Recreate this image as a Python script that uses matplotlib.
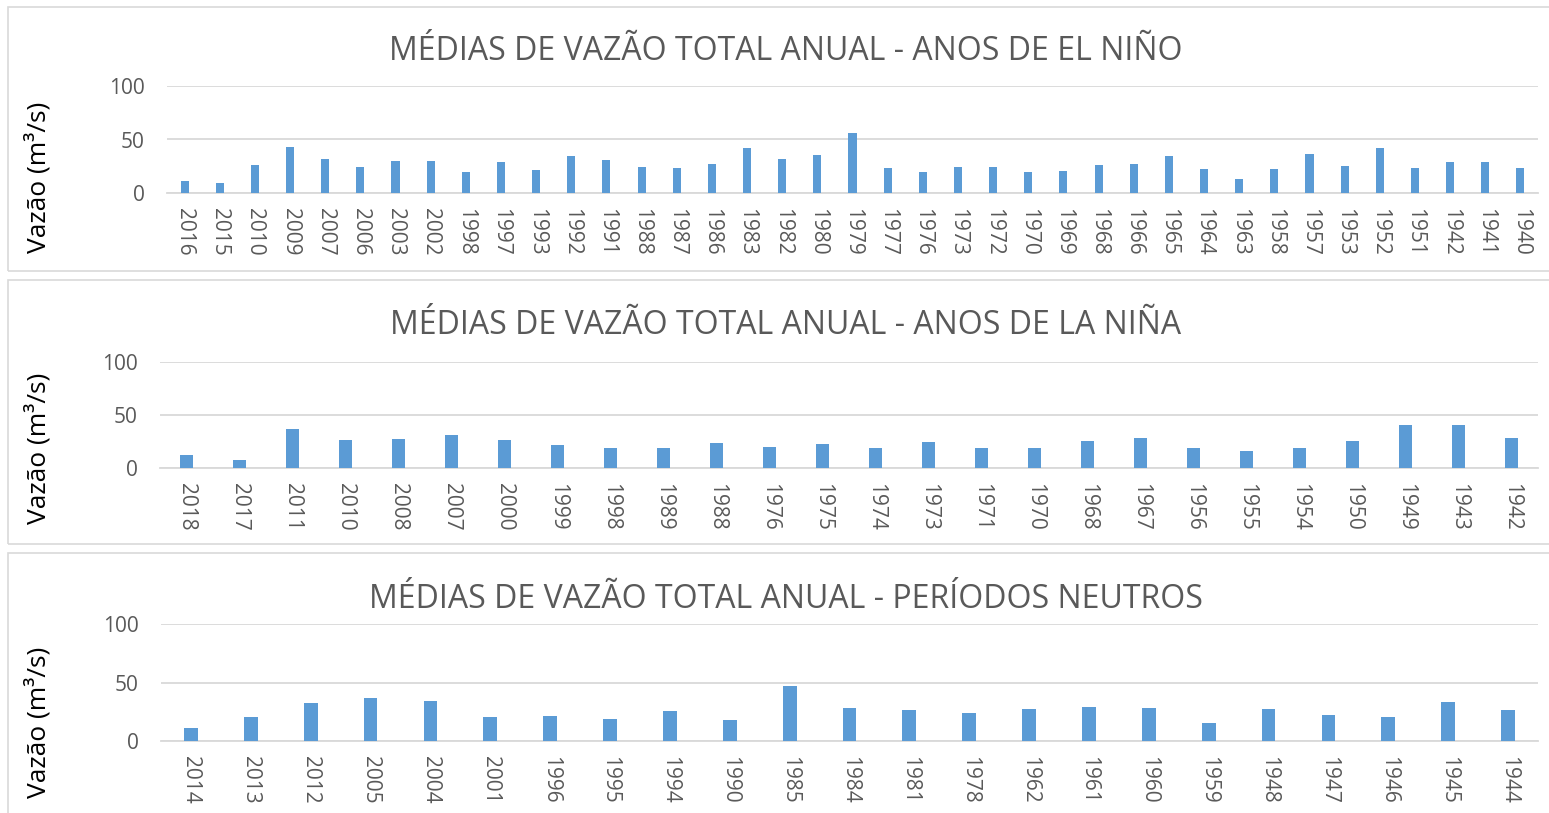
import matplotlib.pyplot as plt
from matplotlib.patches import Rectangle

# dados
anos_el_nino = ['2016', '2015', '2010', '2009', '2007', '2006', '2003', '2002', '1998', '1997',
                '1993', '1992', '1991', '1988', '1987', '1986', '1983', '1982', '1980', '1979',
                '1977', '1976', '1973', '1972', '1970', '1969', '1968', '1966', '1965', '1964',
                '1963', '1958', '1957', '1953', '1952', '1951', '1942', '1941', '1940']
vazao_el_nino = [11.0, 9.4, 26.0, 42.8, 31.4, 24.2, 29.6, 30.2, 19.5, 29.2,
                 21.7, 34.6, 30.5, 24.2, 23.0, 27.4, 42.5, 31.8, 35.2, 56.0,
                 23.3, 19.8, 24.5, 23.9, 19.8, 21.0, 26.4, 26.7, 34.6, 22.3,
                 13.5, 22.6, 36.8, 24.8, 42.1, 23.3, 29.2, 28.6, 23.3]

anos_la_nina = ['2018', '2017', '2011', '2010', '2008', '2007', '2000', '1999', '1998', '1989',
                '1988', '1976', '1975', '1974', '1973', '1971', '1970', '1968', '1967', '1956',
                '1955', '1954', '1950', '1949', '1943', '1942']
vazao_la_nina = [12.3, 7.2, 36.8, 26.1, 27.7, 30.8, 26.1, 21.7, 18.9, 18.9,
                 23.9, 19.5, 23.0, 19.2, 24.2, 19.2, 19.2, 25.8, 28.6, 19.2,
                 15.7, 19.2, 25.8, 40.6, 40.9, 28.6]

anos_neutros = ['2014', '2013', '2012', '2005', '2004', '2001', '1996', '1995', '1994', '1990',
                '1985', '1984', '1981', '1978', '1962', '1961', '1960', '1959', '1948', '1947',
                '1946', '1945', '1944']
vazao_neutros = [10.9, 20.3, 32.6, 36.6, 34.3, 20.9, 21.4, 18.6, 25.4, 18.0,
                 46.6, 28.3, 26.6, 23.7, 27.4, 29.1, 28.0, 15.1, 27.7, 22.6,
                 20.9, 33.1, 26.9]

titulos = ['MÉDIAS DE VAZÃO TOTAL ANUAL - ANOS DE EL NIÑO',
           'MÉDIAS DE VAZÃO TOTAL ANUAL - ANOS DE LA NIÑA',
           'MÉDIAS DE VAZÃO TOTAL ANUAL - PERÍODOS NEUTROS']

plt.rcParams['font.family'] = ['Open Sans', 'DejaVu Sans']

W, H = 1549, 813
fig = plt.figure(figsize=(W / 100, H / 100), dpi=100)

cinza = '#595959'
grade = '#D9D9D9'
azul = '#5B9BD5'

# (esquerda, direita, topo=100, base=0, caixa topo, caixa base, titulo y, ylabel y)
paineis = [
    (167, 1538, 86, 193, 7, 271, 52, 177),
    (160, 1538, 362, 468, 280, 544, 325, 448),
    (161, 1538, 624, 741, 553, 830, 599, 722),
]
dados = [(anos_el_nino, vazao_el_nino), (anos_la_nina, vazao_la_nina), (anos_neutros, vazao_neutros)]

for (anos, vazao), titulo, p in zip(dados, titulos, paineis):
    x0, x1, ytop, ybot, btop, bbot, ty, ly = p

    # moldura de cada gráfico
    fig.patches.append(Rectangle((8 / W, 1 - bbot / H), 1.2, (bbot - btop) / H,
                                 transform=fig.transFigure, fill=False,
                                 edgecolor=grade, linewidth=1.2))

    ax = fig.add_axes([x0 / W, 1 - ybot / H, (x1 - x0) / W, (ybot - ytop) / H])
    pos = range(len(anos))
    ax.bar(pos, vazao, width=0.23, color=azul, zorder=3)
    ax.set_xlim(-0.5, len(anos) - 0.5)
    ax.set_ylim(0, 100)
    ax.set_yticks([0, 50, 100])
    ax.set_xticks(list(pos))
    ax.set_xticklabels(anos, rotation=-90)
    ax.tick_params(axis='x', length=0, pad=11, labelsize=15, labelcolor=cinza)
    ax.tick_params(axis='y', length=0, pad=16, labelsize=15, labelcolor=cinza)
    ax.grid(axis='y', color=grade, linewidth=1.3, zorder=0)
    for lado in ['top', 'right', 'left']:
        ax.spines[lado].set_visible(False)
    ax.spines['bottom'].set_color(grade)
    ax.spines['bottom'].set_linewidth(1.3)
    ax.set_facecolor('none')

    fig.text(786 / W, 1 - ty / H, titulo, ha='center', va='center', fontsize=23, color=cinza)
    fig.text(38 / W, 1 - ly / H, 'Vazão (m³/s)', ha='center', va='center',
             rotation=90, fontsize=19, color='black')

fig.savefig('out.png', dpi=100)
